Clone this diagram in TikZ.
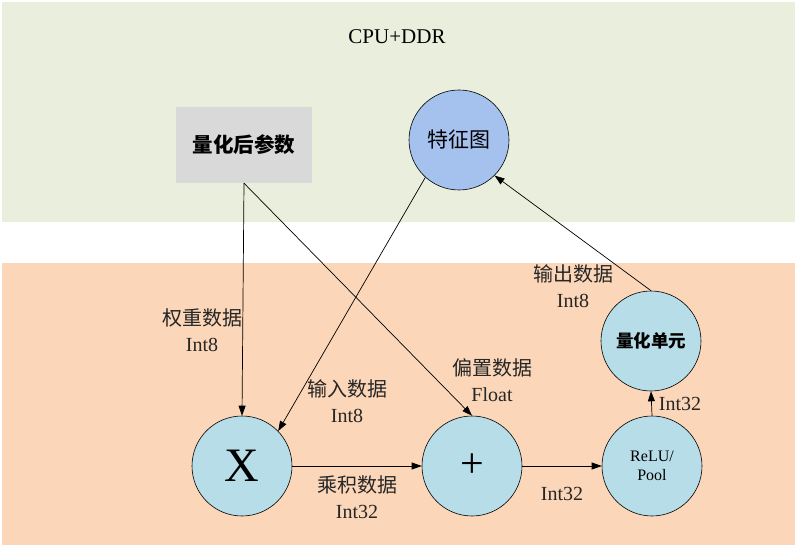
\documentclass[tikz,border=0pt]{standalone}
\usepackage{fontspec}
\setmainfont{Liberation Serif}
\newfontfamily\cjk{Noto Sans CJK SC}
\usetikzlibrary{arrows.meta}
\definecolor{bandgreen}{HTML}{EAEFDD}
\definecolor{bandorange}{HTML}{FBD6B8}
\definecolor{nodeblue}{HTML}{B7DDE8}
\definecolor{mapblue}{HTML}{A5C1EE}
\definecolor{boxgray}{HTML}{D9D9D9}
\tikzset{
  opnode/.style={circle, draw=black, line width=0.6pt, fill=nodeblue, minimum size=100pt, inner sep=0pt},
  conn/.style={-{Triangle[length=10pt,width=7pt]}, line width=0.7pt, black},
  lbl/.style={align=center, font=\fontsize{20}{26}\selectfont, text=black!85, inner sep=0pt},
}
\begin{document}
\begin{tikzpicture}[x=1pt,y=-1pt]
\useasboundingbox (0,0) rectangle (795,545);
\fill[bandgreen] (2,2) rectangle (795,222);
\fill[bandorange] (2,263) rectangle (795,545);
\node[font=\fontsize{21}{22}\selectfont] (cpu) at (397,37) {CPU+DDR};
\node[fill=boxgray, minimum width=136pt, minimum height=76pt, inner sep=0pt, font=\cjk\bfseries\fontsize{20.5}{22}\selectfont] (param) at (244,145) {量化后参数};
\node[opnode, fill=mapblue, font=\cjk\fontsize{21}{22}\selectfont] (tz) at (459,140) {特征图};
\node[opnode, font=\fontsize{48}{50}\selectfont] (mul) at (242,466) {X};
\node[opnode, font=\fontsize{42}{44}\selectfont] (add) at (472,466) {+};
\node[opnode, align=center, font=\fontsize{16}{19}\selectfont] (relu) at (652,466) {ReLU/\\Pool};
\node[opnode, font=\cjk\bfseries\fontsize{17.5}{19}\selectfont] (quant) at (651,341) {量化单元};
% connectors
\draw[conn] (param.south) -- (mul.north);
\draw[conn] (param.south) -- (add.north);
\draw[conn] (tz.228) -- (mul.44);
\draw[conn] (mul.east) -- (add.west);
\draw[conn] (add.east) -- (relu.west);
\draw[conn] (relu.north) -- (quant.south);
\draw[conn] (quant.north) -- (tz.315);
% labels
\node[lbl] (l1) at (202,330) {{\cjk 权重数据}\\Int8};
\node[lbl] (l2) at (347,401) {{\cjk 输入数据}\\Int8};
\node[lbl] (l3) at (492,380) {{\cjk 偏置数据}\\Float};
\node[lbl] (l4) at (357,497) {{\cjk 乘积数据}\\Int32};
\node[lbl] (l5) at (562,494) {Int32};
\node[lbl] (l6) at (680,404) {Int32};
\node[lbl] (l7) at (573,286) {{\cjk 输出数据}\\Int8};
\end{tikzpicture}
\end{document}
